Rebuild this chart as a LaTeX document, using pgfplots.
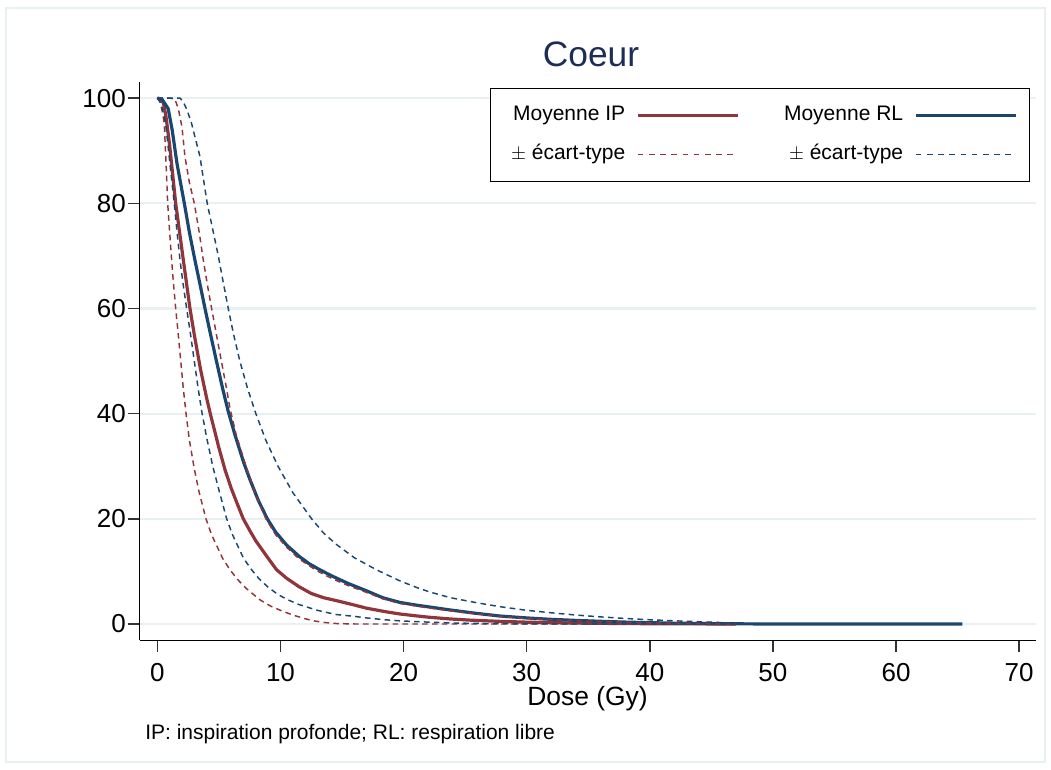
\documentclass[border=0pt]{standalone}
\usepackage{fontspec}
\setmainfont{Liberation Sans}
\usepackage{pgfplots}
\pgfplotsset{compat=1.18}
\definecolor{ipred}{RGB}{144,53,59}
\definecolor{rlblue}{RGB}{26,71,111}
\definecolor{gridc}{RGB}{232,240,242}
\definecolor{titlec}{RGB}{30,45,83}
\begin{document}
\begin{tikzpicture}
\useasboundingbox (0pt,0pt) rectangle (788.25pt,577.5pt);
\draw[gridc, line width=1.5pt] (4.5pt,6pt) rectangle (783.75pt,571.5pt);
\node[anchor=base, text=titlec, font=\fontsize{26.5}{28}\selectfont] at (443.25pt,527.25pt) {Coeur};
\node[anchor=base west, inner sep=0pt, font=\fontsize{15.75}{17}\selectfont] at (108.75pt,22.5pt) {IP: inspiration profonde; RL: respiration libre};
\begin{axis}[
  at={(104.625pt,97.2pt)}, anchor=south west,
  width=672pt, height=418.95pt, scale only axis,
  xmin=-1.45, xmax=71.33, ymin=-3.12, ymax=103.1,
  axis lines*=left,
  axis line style={-, line width=1.1pt, black},
  tick align=outside,
  major tick length=9pt,
  tick style={line width=1.1pt, black!80},
  xtick={0,10,...,70}, ytick={0,20,...,100},
  ymajorgrids,
  major grid style={gridc, line width=1.6pt},
  /pgf/number format/assume math mode=true,
  tick label style={font=\fontsize{19.5}{21}\selectfont},
  xticklabel style={yshift=-4.5pt},
  yticklabel style={xshift=2.2pt},
  xlabel={Dose (Gy)},
  xlabel style={at={(axis description cs:0.5,-0.117)}, anchor=base, font=\fontsize{19.8}{21}\selectfont, inner sep=0pt},
  legend columns=2,
  legend plot pos=right,
  legend cell align=right,
  legend image code/.code={\draw[#1] (0pt,0pt) -- (75pt,0pt);},
  legend style={at={(axis description cs:0.9938,0.9889)}, anchor=north east,
    draw=black, line width=0.9pt, fill=white,
    font=\fontsize{15.75}{17}\selectfont,
    inner xsep=9pt, inner ysep=12.8pt,
    row sep=14.9pt, column sep=8.25pt,
    nodes={inner xsep=0pt, inner ysep=0pt, text height=11pt, text depth=3.5pt},
    /tikz/every even column/.append style={column sep=33.5pt}},
]
\addlegendimage{ipred, line width=2.4pt}
\addlegendentry{\hspace*{6.6pt}Moyenne IP}
\addlegendimage{rlblue, line width=2.4pt}
\addlegendentry{Moyenne RL}
\addlegendimage{ipred, line width=1.1pt, dash pattern=on 4.2pt off 4.2pt}
\addlegendentry{\hspace*{6.6pt}$\pm$ écart-type}
\addlegendimage{rlblue, line width=1.1pt, dash pattern=on 4.2pt off 4.2pt}
\addlegendentry{$\pm$ écart-type}

% IP mean
\addplot[forget plot, ipred, line width=2.4pt] coordinates {
(0,100) (0.3,99.8) (0.5,99) (0.7,96.5) (1.0,91) (1.49,80) (2.11,69.2) (2.65,60) (3.0,55) (3.5,48.5)
(4.0,43) (4.3,40) (5.0,33.5) (5.5,29.3) (6.0,25.8) (6.5,22.8) (6.98,20) (7.5,17.8) (8.0,15.8) (9.0,12.5)
(9.69,10.3) (10.5,8.7) (11.5,7.1) (12.5,5.8) (13.5,5.0) (14.8,4.3) (16,3.6) (17,3.0) (18.5,2.35) (19.7,1.9)
(21,1.55) (22,1.3) (23.8,0.95) (25.5,0.72) (27.8,0.5) (30,0.35) (31.9,0.25) (34,0.18) (36,0.12) (40,0.05)
(44,0.02) (47,0)
};
% RL mean
\addplot[forget plot, rlblue, line width=2.4pt] coordinates {
(0,100) (0.4,99.7) (0.88,98) (1.2,94) (1.6,87.5) (2.19,80) (2.6,74.5) (3.05,69.2) (3.5,64.2) (3.87,60)
(4.3,55.3) (4.8,50) (5.3,44.8) (5.75,40.5) (6.3,36) (7.0,30.8) (7.5,27.6) (8.2,23.5) (8.93,20) (9.6,17.5)
(10.5,15) (11.5,12.9) (12.3,11.5) (13.2,10.3) (14.3,9) (15.5,7.7) (17,6.3) (18.3,5.0) (19.7,4.1) (21,3.6)
(21.9,3.3) (23.8,2.66) (25.8,2.05) (27.8,1.52) (30,1.15) (31.9,0.89) (34,0.68) (36,0.51) (38,0.36) (40,0.25)
(42,0.16) (44,0.1) (46,0.05) (48,0.02) (50,0) (65.4,0)
};
% IP + sd
\addplot[forget plot, ipred, line width=1.1pt, dash pattern=on 4.2pt off 3.2pt] coordinates {
(0,100) (1.0,100) (1.43,99.8) (1.7,98) (2.0,94.5) (2.24,88.9) (2.6,84) (3.0,80) (3.4,74.5) (3.73,69.2)
(4.1,64) (4.41,60) (4.8,55) (5.2,50) (5.6,45) (5.9,41) (6.4,36) (7.2,30) (8.0,24.5) (8.82,20)
(9.6,17) (10.5,14.6) (11.5,12.4) (12.9,10.2) (14.3,8.5) (15.5,7.3) (17,6.0) (18.3,4.8) (19.7,3.9) (21.9,3.1)
(23.8,2.5) (25.8,1.95) (27.8,1.45) (30,1.05) (31.9,0.8) (34,0.6) (36,0.45) (40,0.22) (44,0.08) (47,0)
};
% IP - sd
\addplot[forget plot, ipred, line width=1.1pt, dash pattern=on 4.2pt off 3.2pt] coordinates {
(0,100) (0.2,99.4) (0.4,97.5) (0.56,95.2) (0.7,88) (0.84,80) (1.0,74.5) (1.16,69.2) (1.3,65) (1.49,60)
(1.7,55) (1.9,50) (2.1,45) (2.33,40) (2.6,35) (3.0,29.5) (3.4,25) (3.95,20) (4.4,17) (4.8,15)
(5.3,12.5) (5.9,10.3) (6.5,8.5) (7.2,6.8) (8.33,4.6) (9.2,3.4) (10,2.6) (11,1.7) (12,1.0) (12.7,0.6)
(13.5,0.3) (14.6,0.08) (16,0) (47,0)
};
% RL + sd
\addplot[forget plot, rlblue, line width=1.1pt, dash pattern=on 4.2pt off 3.2pt] coordinates {
(0,100) (1.84,100) (2.1,99.3) (2.4,97.8) (2.78,95.2) (3.1,92.2) (3.46,88.9) (3.75,84.5) (4.05,80) (4.5,75)
(4.95,70) (5.35,65) (5.76,60) (6.2,55) (6.7,50) (7.3,45) (8.0,40) (8.8,35) (9.8,30) (11,25)
(12.53,20) (13.5,17.3) (14.5,15.2) (16,12.6) (17.8,10.3) (19.7,8.2) (21,7.0) (22.1,6.1) (23.8,5.0) (25.8,4.1)
(27.8,3.3) (30,2.6) (31.9,2.15) (34,1.7) (36,1.35) (38,1.05) (40,0.8) (42,0.6) (44.1,0.42) (46,0.25)
(48,0.08) (50,0)
};
% RL - sd
\addplot[forget plot, rlblue, line width=1.1pt, dash pattern=on 4.2pt off 3.2pt] coordinates {
(0,100) (0.3,99) (0.67,95.2) (1.0,88) (1.37,80) (1.6,74.5) (1.84,69.2) (2.1,64.5) (2.38,60) (2.7,55)
(3.0,50) (3.3,45) (3.6,40.5) (4.0,35.5) (4.5,30) (5.0,25.5) (5.63,20) (6.1,17) (6.5,15) (7.0,12.5)
(7.66,10.3) (8.3,8.5) (9.0,7) (9.8,5.6) (10.6,4.6) (11.5,3.7) (13,2.6) (14.5,1.8) (16,1.45) (17,1.15)
(18.5,0.8) (19.7,0.6) (21,0.45) (22.1,0.35) (23.8,0.2) (26,0.1) (28,0.05) (32,0) (47,0)
};
\end{axis}
\end{tikzpicture}
\end{document}
